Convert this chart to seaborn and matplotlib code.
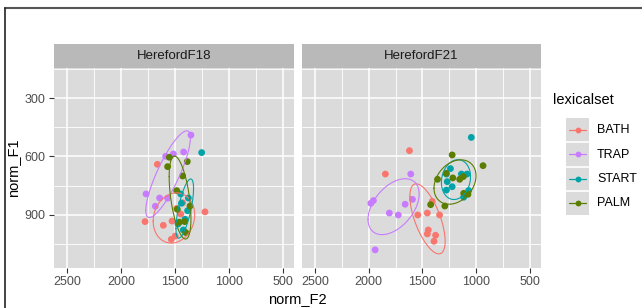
import numpy as np
import pandas as pd
import matplotlib
matplotlib.use('Agg')
import matplotlib.pyplot as plt
import seaborn as sns
from matplotlib.lines import Line2D

# valori (norm_F2, norm_F1)
speakers = ['HerefordF18', 'HerefordF21']
lexical_sets = ['BATH', 'TRAP', 'START', 'PALM']
palette = ['#F8766D', '#C77CFF', '#00A3A8', '#5B7D00']

# HerefordF18
f18_bath_f2 = [1663, 1777, 1608, 1527, 1534, 1497, 1429, 1447, 1222, 1484]
f18_bath_f1 = [640, 934, 953, 931, 1025, 1008, 837, 895, 884, 866]
f18_trap_f2 = [1352, 1420, 1515, 1586, 1768, 1642, 1568, 1682]
f18_trap_f1 = [490, 577, 587, 599, 792, 813, 814, 855]
f18_start_f2 = [1253, 1447, 1376, 1383, 1407, 1472, 1423, 1440]
f18_start_f1 = [580, 792, 813, 878, 922, 946, 977, 840]
f18_palm_f2 = [1552, 1568, 1386, 1429, 1484, 1478, 1361, 1460, 1410, 1401]
f18_palm_f1 = [604, 652, 626, 700, 775, 871, 854, 937, 934, 990]

# HerefordF21
f21_bath_f2 = [1621, 1845, 1544, 1455, 1409, 1341, 1446, 1455, 1378, 1393]
f21_bath_f1 = [570, 690, 900, 890, 830, 900, 977, 997, 1004, 1035]
f21_trap_f2 = [1980, 1956, 1808, 1725, 1661, 1593, 1609, 1940]
f21_trap_f1 = [840, 826, 890, 900, 845, 820, 690, 1079]
f21_start_f2 = [1046, 1240, 1277, 1138, 1086, 1270, 1277, 1224, 1117, 1071]
f21_start_f1 = [502, 662, 690, 690, 690, 729, 772, 755, 809, 775]
f21_palm_f2 = [1224, 937, 1360, 1280, 1218, 1154, 1120, 1117, 1077, 1292, 1424]
f21_palm_f1 = [592, 647, 717, 686, 710, 717, 703, 789, 794, 854, 847]

serie = {
    'HerefordF18': {'BATH': (f18_bath_f2, f18_bath_f1), 'TRAP': (f18_trap_f2, f18_trap_f1),
                    'START': (f18_start_f2, f18_start_f1), 'PALM': (f18_palm_f2, f18_palm_f1)},
    'HerefordF21': {'BATH': (f21_bath_f2, f21_bath_f1), 'TRAP': (f21_trap_f2, f21_trap_f1),
                    'START': (f21_start_f2, f21_start_f1), 'PALM': (f21_palm_f2, f21_palm_f1)},
}
righe = []
for sp in speakers:
    for ls in lexical_sets:
        f2, f1 = serie[sp][ls]
        for a, b in zip(f2, f1):
            righe.append({'speaker': sp, 'lexicalset': ls, 'norm_F2': a, 'norm_F1': b})
df = pd.DataFrame(righe)

ELLIPSE_LEVEL = 0.70


# covarianza robusta con distribuzione t (come MASS::cov.trob, nu = 5)
def cov_trob(pts, nu=5, maxit=25, tol=1e-4):
    n, p = pts.shape
    loc = pts.mean(axis=0)
    w = np.ones(n)
    for _ in range(maxit):
        w0 = w
        X = pts - loc
        _, d, vt = np.linalg.svd(np.sqrt(w / w.sum())[:, None] * X, full_matrices=False)
        wX = X @ vt.T @ np.diag(1 / d)
        Q = (wX ** 2).sum(axis=1)
        w = (nu + p) / (nu + Q)
        loc = (w[:, None] * pts).sum(axis=0) / w.sum()
        if np.all(np.abs(w - w0) < tol):
            break
    X = pts - loc
    cov = (np.sqrt(w)[:, None] * X).T @ (np.sqrt(w)[:, None] * X) / n
    return loc, cov


# ellisse come stat_ellipse (raggio da quantile F con dfn = 2)
def ellisse(x, y, level=ELLIPSE_LEVEL, segmenti=61):
    pts = np.column_stack([x, y]).astype(float)
    d = len(pts) - 1
    fq = (d / 2) * ((1 - level) ** (-2 / d) - 1)
    raggio = np.sqrt(2 * fq)
    centro, cov = cov_trob(pts)
    chol = np.linalg.cholesky(cov).T
    ang = np.linspace(0, 2 * np.pi, segmenti)
    cerchio = np.column_stack([np.cos(ang), np.sin(ang)])
    return centro + raggio * cerchio @ chol


sns.set_theme(style='darkgrid')
plt.rcParams['font.family'] = ['Liberation Sans', 'DejaVu Sans']

W, H = 642, 308
fig = plt.figure(figsize=(W / 100, H / 100), dpi=100)


def rect(x0, y0, x1, y1):
    return [x0 / W, 1 - y1 / H, (x1 - x0) / W, (y1 - y0) / H]


colori = dict(zip(lexical_sets, palette))
pannelli = [(54, 294), (302, 541)]
for i, sp in enumerate(speakers):
    x0, x1 = pannelli[i]
    ax = fig.add_axes(rect(x0, 68, x1, 268))
    ax.set_facecolor('#DBDBDB')
    sub = df[df['speaker'] == sp]
    sns.scatterplot(data=sub, x='norm_F2', y='norm_F1', hue='lexicalset', hue_order=lexical_sets,
                    palette=colori, s=24, linewidth=0, legend=False, ax=ax, zorder=2)
    for ls in lexical_sets:
        g = sub[sub['lexicalset'] == ls]
        e = ellisse(g['norm_F2'], g['norm_F1'])
        ax.plot(e[:, 0], e[:, 1], color=colori[ls], lw=0.8, zorder=3)
    ax.set_xlim(2620, 398)
    ax.set_ylim(1172, 146)
    ax.set_xticks([2500, 2000, 1500, 1000, 500])
    ax.set_xticks([2250, 1750, 1250, 750], minor=True)
    ax.set_yticks([300, 600, 900])
    ax.set_yticks([150, 450, 750, 1050], minor=True)
    ax.grid(which='major', color='white', lw=1.1)
    ax.grid(which='minor', color='white', lw=0.6)
    ax.set_axisbelow(True)
    for s in ax.spines.values():
        s.set_visible(False)
    ax.tick_params(which='major', length=3.5, width=0.8, color='#333333', pad=2.5,
                   labelsize=9, labelcolor='#4D4D4D', bottom=True, left=True)
    ax.tick_params(which='minor', length=0)
    ax.set_xlabel('')
    ax.set_ylabel('')
    if i > 0:
        ax.tick_params(axis='y', left=False, labelleft=False)
    # strip
    st = fig.add_axes(rect(x0, 44, x1, 68))
    st.set_facecolor('#B9B9B9')
    st.set_xticks([])
    st.set_yticks([])
    for s in st.spines.values():
        s.set_visible(False)
    st.text(0.5, 0.5, sp, ha='center', va='center', fontsize=9.5, color='#1A1A1A', transform=st.transAxes)

fig.text(297.5 / W, 1 - 299 / H, 'norm_F2', ha='center', va='center', fontsize=10.5, color='black')
fig.text(13 / W, 1 - 168 / H, 'norm_F1', ha='center', va='center', rotation=90, fontsize=10.5, color='black')

# legenda
fig.text(553 / W, 1 - 100 / H, 'lexicalset', ha='left', va='center', fontsize=10.5, color='black')
lg = fig.add_axes(rect(566, 118, 589, 215))
lg.set_facecolor('#DBDBDB')
lg.set_xlim(0, 1)
lg.set_ylim(4, 0)
lg.set_xticks([])
lg.set_yticks([])
lg.grid(False)
for s in lg.spines.values():
    s.set_visible(False)
for k, ls in enumerate(lexical_sets):
    lg.plot([0.12, 0.88], [k + 0.5, k + 0.5], color=colori[ls], lw=0.9)
    lg.plot([0.5], [k + 0.5], 'o', color=colori[ls], ms=4.2, mew=0)
    if k > 0:
        lg.axhline(k, color='white', lw=1.2)
    fig.text(597 / W, 1 - (130 + k * 24.5) / H, ls, ha='left', va='center', fontsize=9, color='black')

# bordo dello screenshot
fig.add_artist(Line2D([5.5 / W, 1], [1 - 8 / H, 1 - 8 / H], color='#555555', lw=1.5))
fig.add_artist(Line2D([5.5 / W, 5.5 / W], [0, 1 - 8 / H], color='#222222', lw=1.2))

fig.savefig('out.png', dpi=100)
